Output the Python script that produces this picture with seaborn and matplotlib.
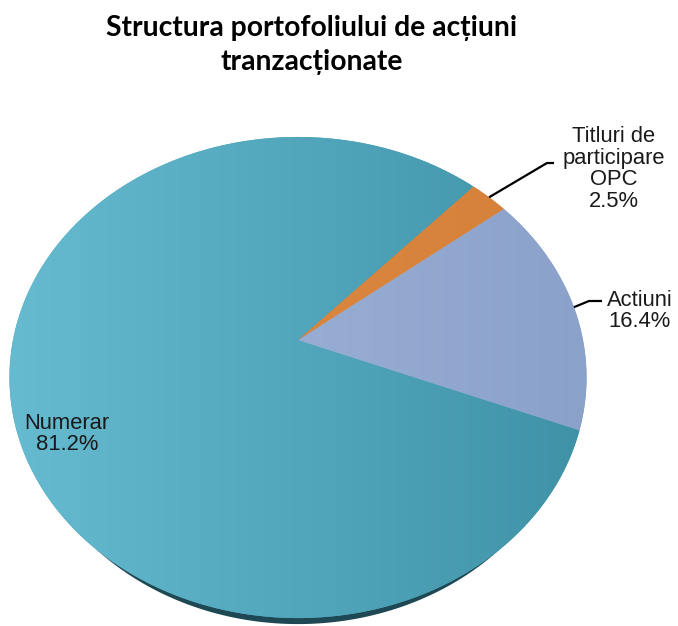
import numpy as np
import matplotlib
matplotlib.use("Agg")
import matplotlib.pyplot as plt
from matplotlib.patches import Polygon
from matplotlib.colors import LinearSegmentedColormap
import seaborn as sns

# ---- data ----
categories = ["Titluri de\nparticipare\nOPC", "Actiuni", "Numerar"]
values = [2.5, 16.4, 81.2]
colors = ["#D9843C", "#8FA6CE", "#4EA5BA"]
title = "Structura portofoliului de acțiuni\ntranzacționate"

sns.set_theme(style="white")
plt.rcParams["font.family"] = ["Liberation Sans", "DejaVu Sans"]

W, H = 678, 626
fig = plt.figure(figsize=(W / 100, H / 100), dpi=100)
ax = fig.add_axes([0, 0, 1, 1])

wedges, _ = ax.pie(values, startangle=46.7, counterclock=False, radius=1.0,
                   center=(0, 0), colors=colors)

ax.set_aspect("auto")
ax.set_xlim(0, W)
ax.set_ylim(H, 0)
ax.axis("off")

# perspective (tilted disc) projection of unit pie into pixel space
x0, y0, A, B, k = 298.0, 340.0, 285.0, 234.7, 0.156


def proj(u, v):
    w = 1 + k * v
    return x0 + A * u / w, y0 - B * v / w


polys = []
for wdg in wedges:
    t = np.deg2rad(np.linspace(wdg.theta1, wdg.theta2, 400))
    u = np.concatenate([[0.0], wdg.r * np.cos(t)])
    v = np.concatenate([[0.0], wdg.r * np.sin(t)])
    X, Y = proj(u, v)
    polys.append(np.column_stack([X, Y]))
    wdg.remove()

# 3D depth / shadow under the large slice (visible only along the bottom rim)
sh = polys[2].copy()
sh[:, 0] = x0 + (sh[:, 0] - x0) * 0.965
sh[:, 1] += 6
ax.add_patch(Polygon(sh, closed=True, facecolor="#1E4853", edgecolor="none", zorder=1))

patches = []
for poly, col in zip(polys, colors):
    p = Polygon(poly, closed=True, facecolor=col, edgecolor="none", zorder=2)
    ax.add_patch(p)
    patches.append(p)

# gradient shading on slices (light left, darker right)
grad = np.linspace(0, 1, 256).reshape(1, -1)
cm_num = LinearSegmentedColormap.from_list("num", ["#66BBD1", "#3F92A6"])
im = ax.imshow(grad, cmap=cm_num, extent=(8, 590, 625, 130), aspect="auto", zorder=3,
               interpolation="bilinear")
im.set_clip_path(patches[2])
cm_act = LinearSegmentedColormap.from_list("act", ["#98ADD3", "#8AA1CA"])
im2 = ax.imshow(grad, cmap=cm_act, extent=(298, 590, 625, 130), aspect="auto", zorder=3,
                interpolation="bilinear")
im2.set_clip_path(patches[1])
cm_opc = LinearSegmentedColormap.from_list("opc", ["#DB863E", "#D6823B"])
im3 = ax.imshow(grad, cmap=cm_opc, extent=(298, 510, 625, 130), aspect="auto", zorder=3,
                interpolation="bilinear")
im3.set_clip_path(patches[0])

# labels
fs = 15.8
labels = [f"{c}\n{v:.1f}%" for c, v in zip(categories, values)]

# OPC label with leader line
mid0 = np.deg2rad((wedges[0].theta1 + wedges[0].theta2) / 2)
sx, sy = proj(np.cos(mid0), np.sin(mid0))
ax.plot([sx, 547, 554], [sy, 163, 163], color="black", lw=1.6, zorder=5,
        solid_capstyle="butt")
ax.text(614, 169, labels[0], ha="center", va="center", fontsize=fs,
        color="#1a1a1a", linespacing=1.05, zorder=6)

# Actiuni label with leader line
mid1 = np.deg2rad((wedges[1].theta1 + wedges[1].theta2) / 2)
sx, sy = proj(np.cos(mid1), np.sin(mid1))
ax.plot([sx, 589, 602], [sy, 301, 301], color="black", lw=1.6, zorder=5,
        solid_capstyle="butt")
ax.text(640, 311, labels[1], ha="center", va="center", fontsize=fs,
        color="#1a1a1a", linespacing=1.05, zorder=6)

# Numerar label inside
ax.text(67, 434, labels[2], ha="center", va="center", fontsize=fs,
        color="#1a1a1a", linespacing=1.05, zorder=6)

fig.text(312 / W, 1 - 45 / H, title, ha="center", va="center", fontsize=20.3,
         fontweight="bold", family=["Lato", "DejaVu Sans"], color="black",
         linespacing=1.4)

fig.savefig("out.png", dpi=100, facecolor="white")
